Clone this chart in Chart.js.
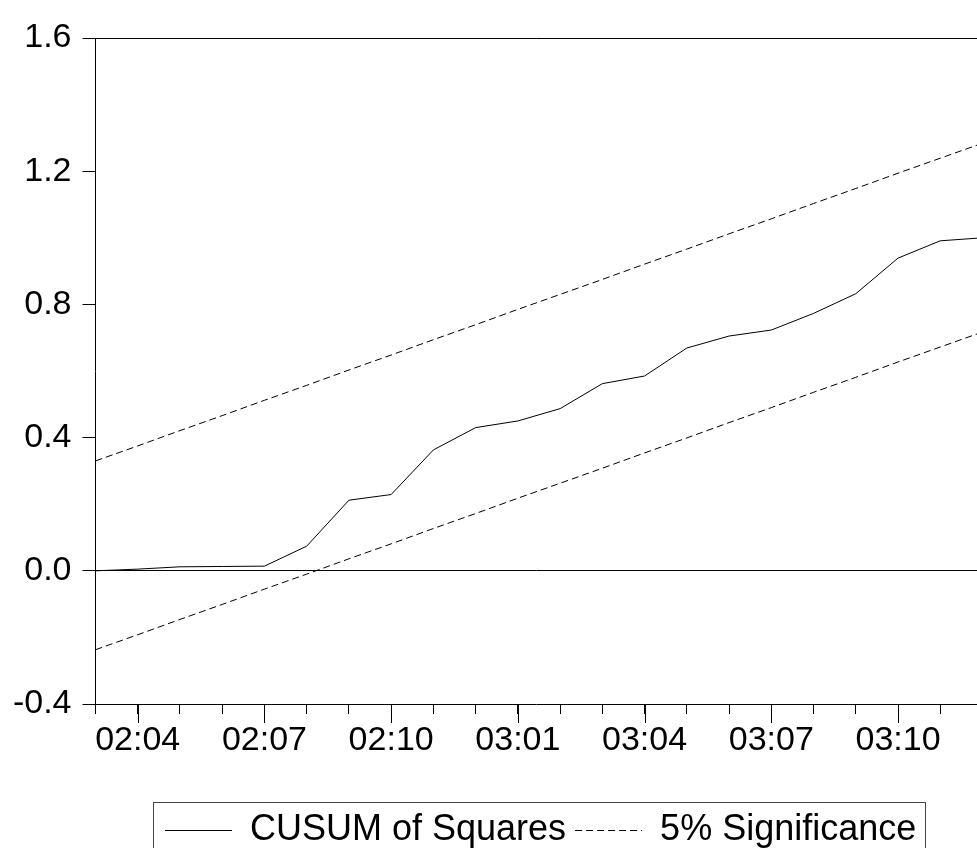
<!DOCTYPE html>
<html><head><meta charset="utf-8">
<script src="https://cdn.jsdelivr.net/npm/chart.js@4.4.0/dist/chart.umd.min.js"></script>
<style>html,body{margin:0;padding:0;background:#fff;overflow:hidden}</style>
</head><body>
<canvas id="c" width="977" height="848"></canvas>
<script>
// ---- data ----
const categories = ['02:03','02:04','02:05','02:06','02:07','02:08','02:09','02:10','02:11','02:12',
  '03:01','03:02','03:03','03:04','03:05','03:06','03:07','03:08','03:09','03:10','03:11','03:12'];
const cusumSq = [0.000,0.005,0.012,0.013,0.014,0.074,0.212,0.229,0.363,0.430,0.450,
  0.487,0.562,0.585,0.669,0.705,0.723,0.773,0.832,0.939,0.991,1.000];
const upper5 = [0.330,0.375,0.421,0.466,0.512,0.557,0.603,0.648,0.694,0.739,0.785,
  0.830,0.875,0.921,0.966,1.012,1.057,1.103,1.148,1.194,1.239,1.284];
const lower5 = [-0.237,-0.192,-0.146,-0.101,-0.055,-0.010,0.036,0.081,0.127,0.172,0.218,
  0.263,0.308,0.354,0.399,0.445,0.490,0.536,0.581,0.627,0.672,0.717];
const xTickLabels = ['02:04','02:07','02:10','03:01','03:04','03:07','03:10'];
const yTickValues = [-0.4,0.0,0.4,0.8,1.2,1.6];
const seriesNames = ['CUSUM of Squares','5% Significance'];

const FONT = "'Liberation Sans', Arial, sans-serif";
Chart.defaults.font.family = FONT;
Chart.defaults.color = '#000';

const toPts = arr => arr.map((y, i) => ({x: i, y}));

const framePlugin = {
  id: 'frame',
  afterUpdate(chart) {
    const lg = chart.legend;
    if (!lg || !lg.legendHitBoxes || !lg.legendHitBoxes.length) return;
    const hb = lg.legendHitBoxes;
    const dx = 165 - hb[0].left;
    const dy = 803.5 - lg.top;
    lg.left += dx; lg.right += dx; lg.top += dy; lg.bottom += dy;
    hb.forEach(h => { h.left += dx; h.top += dy; });
  },
  afterDraw(chart) {
    const {ctx, chartArea: a} = chart;
    const xs = chart.scales.x;
    ctx.save();
    ctx.strokeStyle = '#000';
    ctx.lineWidth = 1;
    ctx.setLineDash([]);
    // top frame line
    const ty = Math.round(a.top) + 0.5;
    ctx.beginPath(); ctx.moveTo(a.left, ty); ctx.lineTo(a.right + 1, ty); ctx.stroke();
    // long ticks at labelled categories
    categories.forEach((c, i) => {
      if (!xTickLabels.includes(c)) return;
      const px = Math.round(xs.getPixelForValue(i)) + 0.5;
      ctx.beginPath(); ctx.moveTo(px, a.bottom); ctx.lineTo(px, a.bottom + 19); ctx.stroke();
    });
    // legend border
    const lg = chart.legend;
    if (lg && lg.legendHitBoxes && lg.legendHitBoxes.length) {
      const hb = lg.legendHitBoxes;
      const last = hb[hb.length - 1];
      const l = Math.round(hb[0].left - 12) + 0.5;
      const r = Math.round(last.left + last.width + 9) + 0.5;
      ctx.strokeStyle = '#444';
      ctx.strokeRect(l, 802.5, r - l, 80);
    }
    ctx.restore();
  }
};

new Chart(document.getElementById('c'), {
  type: 'line',
  data: {
    datasets: [
      {label: seriesNames[0], data: toPts(cusumSq), borderColor: '#000', borderWidth: 1,
       pointRadius: 0, tension: 0, fill: false},
      {label: seriesNames[1], data: toPts(upper5), borderColor: '#000', borderWidth: 1,
       borderDash: [7, 4], pointRadius: 0, tension: 0, fill: false},
      {label: seriesNames[1] + ' (lower)', data: toPts(lower5), borderColor: '#000', borderWidth: 1,
       borderDash: [7, 4], pointRadius: 0, tension: 0, fill: false}
    ]
  },
  options: {
    responsive: false,
    animation: false,
    events: [],
    layout: {padding: {top: 38, left: 0, right: 0, bottom: 0}},
    plugins: {
      tooltip: {enabled: false},
      legend: {
        display: true,
        position: 'bottom',
        labels: {
          filter: item => item.datasetIndex !== 2,
          generateLabels: chart => Chart.defaults.plugins.legend.labels.generateLabels(chart).map(it => {
            const ds = chart.data.datasets[it.datasetIndex];
            return Object.assign({}, it, {
              lineDash: ds.borderDash ? [7, 4] : [],
              lineWidth: 1,
              strokeStyle: '#000',
              fillStyle: '#000',
              fontColor: '#000'
            });
          }),
          usePointStyle: true,
          pointStyle: 'line',
          pointStyleWidth: 67,
          padding: 9,
          color: '#000',
          font: {size: 36, family: FONT}
        }
      }
    },
    scales: {
      x: {
        type: 'linear',
        min: 0,
        max: 20.87,
        afterBuildTicks: s => { s.ticks = categories.map((c, i) => ({value: i})).filter(t => t.value <= s.max); },
        afterFit: s => { s.height = 89; },
        ticks: {
          autoSkip: false,
          maxRotation: 0,
          padding: 6,
          color: '#000',
          font: {size: 34, family: FONT},
          callback: v => (xTickLabels.includes(categories[v]) ? categories[v] : '')
        },
        grid: {display: true, drawOnChartArea: false, tickLength: 10, tickColor: '#000', tickWidth: 1},
        border: {display: true, color: '#000', width: 1}
      },
      y: {
        type: 'linear',
        min: -0.4,
        max: 1.6,
        afterBuildTicks: s => { s.ticks = yTickValues.map(v => ({value: v})); },
        afterFit: s => { s.width = 95.5; },
        ticks: {
          padding: 11,
          color: '#000',
          font: {size: 34, family: FONT},
          callback: v => Number(v).toFixed(1)
        },
        grid: {
          display: true,
          drawOnChartArea: true,
          tickLength: 13,
          tickColor: '#000',
          color: c => (c.tick && Math.abs(c.tick.value) < 1e-9 ? '#000' : 'rgba(0,0,0,0)'),
          lineWidth: 1
        },
        border: {display: true, color: '#000', width: 1}
      }
    }
  },
  plugins: [framePlugin]
});
</script>
</body></html>
